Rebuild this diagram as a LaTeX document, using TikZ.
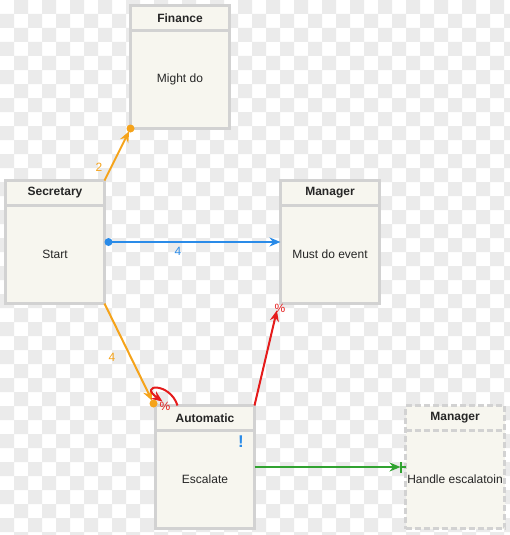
\documentclass[tikz,border=0pt]{standalone}
\usepackage{fontspec}
\setmainfont{Liberation Sans}
\usetikzlibrary{arrows.meta}
\definecolor{chk}{HTML}{EBEBEB}
\definecolor{boxfill}{HTML}{F7F6EF}
\definecolor{boxline}{HTML}{D2D2D2}
\definecolor{corange}{HTML}{F5A31A}
\definecolor{cblue}{HTML}{2A8BE8}
\definecolor{cred}{HTML}{E51B1B}
\definecolor{cgreen}{HTML}{31A331}
\tikzset{
  box/.style={draw=boxline, fill=boxfill, line width=2.6pt, rectangle, inner sep=0pt, outer sep=0pt, minimum width=99pt, minimum height=123pt, anchor=north west},
  sep/.style={draw=boxline, line width=2.6pt},
  title/.style={font=\bfseries\fontsize{12}{14}\selectfont, text=black!85},
  body/.style={font=\fontsize{12}{14}\selectfont, text=black!85},
  lbl/.style={font=\fontsize{12}{14}\selectfont},
  conn/.style={line width=2pt},
  tip/.style={-{Stealth[length=11pt,width=9pt]}}
}
\begin{document}
\begin{tikzpicture}[x=1pt,y=-1pt]
\useasboundingbox (0,0) rectangle (510,535);
% checkerboard background (xor of odd rows and odd columns)
\fill[white] (0,0) rectangle (510,535);
\fill[chk, even odd rule]
  \foreach \k in {0,...,18}{ ({28*\k+14},0) rectangle ({28*\k+28},535) }
  \foreach \j in {0,...,18}{ (0,{28*\j+14}) rectangle (510,{28*\j+28}) };
% boxes
\node[box] (fin) at (130.5,5.5) {};
\node[box] (sec) at (5.5,180.5) {};
\node[box] (mgr) at (280.5,180.5) {};
\node[box] (aut) at (155.5,405.5) {};
\node[box, dash pattern=on 6pt off 3pt] (mg2) at (405.5,405.5) {};
% separators
\foreach \b in {fin,sec,mgr,aut}{
  \draw[sep] ([yshift=-25pt]\b.north west) -- ([yshift=-25pt]\b.north east);
}
\draw[sep, dash pattern=on 6pt off 3pt] ([yshift=-25pt]mg2.north west) -- ([yshift=-25pt]mg2.north east);
% titles
\node[title] (tfin) at ([yshift=-12.5pt]fin.north) {Finance};
\node[title] (tsec) at ([yshift=-12.5pt]sec.north) {Secretary};
\node[title] (tmgr) at ([yshift=-12.5pt]mgr.north) {Manager};
\node[title] (taut) at ([yshift=-12.5pt]aut.north) {Automatic};
\node[title] (tmg2) at ([yshift=-12.5pt]mg2.north) {Manager};
% bodies
\node[body] (bfin) at ([yshift=-12.5pt]fin.center) {Might do};
\node[body] (bsec) at ([yshift=-12.5pt]sec.center) {Start};
\node[body] (bmgr) at ([yshift=-12.5pt]mgr.center) {Must do event};
\node[body] (baut) at ([yshift=-12.5pt]aut.center) {Escalate};
\node[body] (bmg2) at ([yshift=-12.5pt]mg2.center) {Handle escalatoin};
\node[font=\bfseries\fontsize{17}{18}\selectfont, text=cblue] (excl) at (241,442) {!};
% connectors
% Secretary -> Finance
\draw[conn, corange, tip, shorten >=3pt] (sec.north east) -- (fin.south west);
\fill[corange] (fin.south west) circle (4pt);
\node[lbl, text=corange] (l2) at (99,167) {2};
% Secretary -> Manager
\draw[conn, cblue, tip] ([xshift=4pt]sec.east) -- (mgr.west);
\fill[cblue] ([xshift=4pt]sec.east) circle (4pt);
\node[lbl, text=cblue] (l4b) at (178,251) {4};
% Secretary -> Automatic
\draw[conn, corange, tip, shorten >=3pt] (sec.south east) -- ([shift={(-2pt,2pt)}]aut.north west);
\fill[corange] ([shift={(-2pt,2pt)}]aut.north west) circle (4pt);
\node[lbl, text=corange] (l4o) at (112,357) {4};
% self loop
\draw[conn, cred, tip] ([shift={(22pt,0pt)}]aut.north west) .. controls (170,382) and (138,384) .. ([shift={(7pt,4pt)}]aut.north west);
\node[lbl, text=cred] (lp1) at (165,406) {\%};
% Automatic -> Manager
\draw[conn, cred, tip, shorten >=7pt] (aut.north east) -- ([xshift=-2pt]mgr.south west);
\node[lbl, text=cred] (lp2) at (280,308) {\%};
% Automatic -> Manager (escalation)
\draw[conn, cgreen, tip, shorten >=5pt] (aut.east) -- (mg2.west);
\draw[conn, cgreen] ([xshift=-5pt]mg2.west) -- (mg2.west);
\draw[conn, cgreen] ([shift={(-5pt,-5.5pt)}]mg2.west) -- ([shift={(-5pt,5.5pt)}]mg2.west);
\end{tikzpicture}
\end{document}
